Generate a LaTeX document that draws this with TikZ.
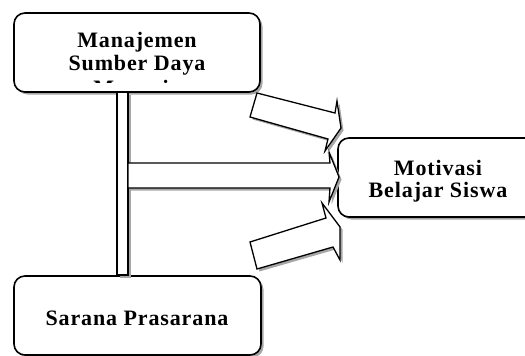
\documentclass[tikz,border=0pt]{standalone}
\usepackage{fontspec}
\setmainfont{Liberation Serif}[LetterSpace=4]
\usetikzlibrary{shadows}
\tikzset{
  shd/.style={drop shadow={shadow xshift=2.5pt, shadow yshift=-2.5pt, fill=black!35, opacity=1}},
  rbox/.style={draw=black, line width=1.6pt, fill=white, rounded corners=11pt, shd, inner sep=0pt},
  blk/.style={draw=black, line width=1.3pt, fill=white, line join=miter, shd},
  lbl/.style={font=\fontsize{22}{24}\selectfont\bfseries, anchor=base, inner sep=0pt},
}
\begin{document}
\begin{tikzpicture}[x=1pt, y=-1pt]
\useasboundingbox (0,0) rectangle (525,356);
\clip (0,0) rectangle (525,356);
% boxes
\node[rbox, minimum width=246pt, minimum height=79pt] (mgmt) at (137,52.5) {};
\node[rbox, minimum width=247pt, minimum height=79pt] (sarana) at (137.5,315.5) {};
\node[rbox, minimum width=200pt, minimum height=79pt] (motiv) at (438,177.5) {};
% text of first box (third line clipped)
\node[lbl] (m1) at (137,47) {Manajemen};
\node[lbl] (m2) at (137,70.5) {Sumber Daya};
\begin{scope}
  \clip (14,60) rectangle (260,82);
  \node[lbl] (m3) at (137,95) {Manusia};
\end{scope}
\node[lbl] (s1) at (137,325) {Sarana Prasarana};
\node[lbl] (t1) at (438,175) {Motivasi};
\node[lbl] (t2) at (438,197) {Belajar Siswa};
% vertical bar
\draw[blk] (117,92) rectangle (128,275);
% arrows
\draw[blk] (128,163) -- (330,163) -- (329,152) -- (339,177) -- (329,202) -- (330,188) -- (128,188) -- cycle;
\draw[blk] (257,93) -- (335,113) -- (337,101) -- (341,128) -- (325,151) -- (328,139) -- (250,117) -- cycle;
\draw[blk] (250,242) -- (326,218) -- (322,203) -- (340,227) -- (340,260) -- (333,247) -- (257,269) -- cycle;
\end{tikzpicture}
\end{document}
